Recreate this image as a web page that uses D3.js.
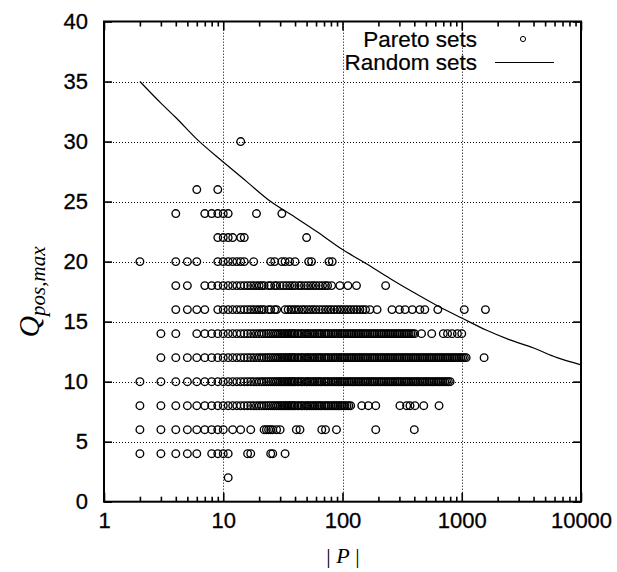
<!DOCTYPE html>
<html>
<head>
<meta charset="utf-8">
<script src="https://cdn.jsdelivr.net/npm/d3@7"></script>
<style>
  html, body { margin: 0; padding: 0; background: #fff; }
  svg { display: block; }
  .tick text { font-family: "Liberation Sans", Arial, sans-serif; font-size: 22px; fill: #000; stroke: #000; stroke-width: 0.3px; }
</style>
</head>
<body>
<div id="chart"></div>
<script>
// Random sets curve
const randomP = [2, 3, 4, 6, 10, 16, 25, 40, 63, 100, 160, 250, 400, 630, 1000, 1600, 2500, 4000, 6300, 10000]
const randomQ = [35.0, 33.2, 32.0, 30.2, 28.3, 26.6, 25.0, 23.7, 22.4, 21.0, 19.8, 18.6, 17.4, 16.3, 15.3, 14.3, 13.5, 12.8, 12.0, 11.4]

// |P| values where the Pareto rows are packed solid
const denseP = [10, 11, 12, 13, 14, 15, 16, 17, 18, 19, 20, 21, 22, 23, 24, 25, 26, 27, 28, 29, 30, 31, 32, 33, 34, 35, 36, 37, 38, 39,
  40, 42, 43, 45, 46, 48, 50, 51, 53, 55, 57, 59, 61, 63, 65, 67, 70, 72, 75, 77, 80, 83, 86, 89, 92, 95, 98,
  102, 105, 109, 113, 117, 121, 125, 129, 134, 138, 143, 148, 153, 159, 164, 170, 176, 182, 188, 195,
  202, 209, 216, 224, 232, 240, 248, 257, 266, 275, 285, 295, 305, 316, 327, 338, 350, 362, 375, 388,
  402, 416, 430, 445, 461, 477, 494, 511, 529, 547, 566, 586, 607, 628, 650, 673, 696, 721, 746, 772, 799,
  827, 856, 886, 917, 949, 982, 1016, 1052, 1089]

// Pareto sets, one array of |P| per Q_pos,max level
const p30 = [14]
const p26 = [6, 9]
const p24 = [4, 7, 8, 9, 10, 11, 19, 31]
const p22 = [9, 10, 11, 12, 14, 15, 50]
const p20 = [2, 4, 5, 6, 9, 10, 11, 12, 13, 14, 15, 18, 25, 27, 31, 33, 36, 40, 52, 55, 77, 82]
const p18 = [4, 5, 7, 8, 9, 10, 11, 12, 13, 14, 15, 16, 17, 18, 19, 20, 21, 22, 24, 25, 27, 28, 30, 32, 34, 36, 38, 40,
  43, 45, 48, 51, 54, 57, 60, 64, 68, 72, 75, 81, 95, 111, 131, 230]
const p16 = [4, 5, 6, 7, 9, 10, 11, 12, 13, 14, 15, 16, 17, 18, 19, 20, 21, 22, 24, 25, 27, 28,
  33, 35, 37, 39, 41, 43, 46, 48, 51, 54, 57, 60, 64, 68, 72, 76, 80, 85, 90, 95, 100, 106, 112, 118, 125, 132,
  140, 148, 156, 170, 195, 260, 300, 335, 385, 445, 490, 630, 1050, 1580]
const p14 = [3, 4, 6, 7, 8, 9, ...denseP.filter(v => v <= 405), 460, 560, 700, 760, 830, 920, 1000]
const p12 = [3, 4, 5, 6, 7, 8, 9, ...denseP, 1540]
const p10 = [2, 3, 4, 5, 6, 7, 8, 9, ...denseP.filter(v => v <= 820)]
const p8 = [2, 3, 4, 5, 6, 7, 8, 9, ...denseP.filter(v => v <= 118), 145, 165, 190, 303, 345, 368, 405, 480, 645]
const p6 = [2, 3, 4, 5, 6, 7, 8, 9, 10, 12, 14, 17, 22, 23, 24, 25, 26, 28, 30, 41, 44, 67, 72, 89, 190, 400]
const p4 = [2, 3, 4, 5, 6, 8, 9, 10, 11, 16, 17, 25, 26, 33]
const p2 = [11]

const qLevels = [30, 26, 24, 22, 20, 18, 16, 14, 12, 10, 8, 6, 4, 2]
const pRows = [p30, p26, p24, p22, p20, p18, p16, p14, p12, p10, p8, p6, p4, p2]

const xMajor = [1, 10, 100, 1000, 10000]
const xMinor = [2, 3, 4, 5, 6, 7, 8, 9, 20, 30, 40, 50, 60, 70, 80, 90, 200, 300, 400, 500, 600, 700, 800, 900,
  2000, 3000, 4000, 5000, 6000, 7000, 8000, 9000]
const yTicks = [0, 5, 10, 15, 20, 25, 30, 35, 40]
const xGrid = [10, 100, 1000]
const yGrid = [5, 10, 15, 20, 25, 30, 35]

const width = 617
const height = 572
const margin = { top: 21.5, right: 36, bottom: 70.3, left: 104 }

const svg = d3.select('#chart')
  .append('svg')
  .attr('width', width)
  .attr('height', height)

const x = d3.scaleLog()
  .domain([1, 10000])
  .range([margin.left, width - margin.right])

const y = d3.scaleLinear()
  .domain([0, 40])
  .range([height - margin.bottom, margin.top])

// dotted grid
const grid = svg.append('g')
  .attr('stroke', '#000')
  .attr('stroke-width', 1)
  .attr('stroke-dasharray', '1,2')

grid.selectAll('line.gx')
  .data(xGrid)
  .enter().append('line')
  .attr('x1', d => Math.round(x(d)) + 0.5)
  .attr('x2', d => Math.round(x(d)) + 0.5)
  .attr('y1', y(0))
  .attr('y2', y(40))

grid.selectAll('line.gy')
  .data(yGrid)
  .enter().append('line')
  .attr('x1', x(1))
  .attr('x2', x(10000))
  .attr('y1', d => Math.round(y(d)) + 0.5)
  .attr('y2', d => Math.round(y(d)) + 0.5)

// Pareto points
const points = []
qLevels.forEach((q, i) => {
  pRows[i].forEach(p => points.push({ p, q }))
})

svg.append('g')
  .selectAll('circle')
  .data(points)
  .enter().append('circle')
  .attr('cx', d => x(d.p))
  .attr('cy', d => y(d.q))
  .attr('r', 3.8)
  .attr('fill', 'none')
  .attr('stroke', '#000')
  .attr('stroke-width', 1.35)

// Random sets curve
const line = d3.line()
  .x(d => x(d[0]))
  .y(d => y(d[1]))
  .curve(d3.curveMonotoneX)

svg.append('path')
  .datum(randomP.map((p, i) => [p, randomQ[i]]))
  .attr('d', line)
  .attr('fill', 'none')
  .attr('stroke', '#000')
  .attr('stroke-width', 1.2)

// axes with inward ticks
const bottomAxis = svg.append('g')
  .attr('transform', `translate(0,${y(0)})`)
bottomAxis.call(d3.axisBottom(x).tickValues(xMajor).tickSize(-9).tickPadding(11).tickFormat(d3.format('d')))
bottomAxis.append('g').call(d3.axisBottom(x).tickValues(xMinor).tickSize(-5).tickFormat(''))

const topAxis = svg.append('g')
  .attr('transform', `translate(0,${y(40)})`)
topAxis.call(d3.axisTop(x).tickValues(xMajor).tickSize(-9).tickFormat(''))
topAxis.append('g').call(d3.axisTop(x).tickValues(xMinor).tickSize(-5).tickFormat(''))

svg.append('g')
  .attr('transform', `translate(${x(1)},0)`)
  .call(d3.axisLeft(y).tickValues(yTicks).tickSize(-8).tickPadding(16))

svg.append('g')
  .attr('transform', `translate(${x(10000)},0)`)
  .call(d3.axisRight(y).tickValues(yTicks).tickSize(-8).tickFormat(''))

svg.selectAll('.domain').remove()
svg.selectAll('.tick line').attr('stroke', '#000').attr('stroke-width', 1.6)

// frame
svg.append('rect')
  .attr('x', x(1))
  .attr('y', y(40))
  .attr('width', x(10000) - x(1))
  .attr('height', y(0) - y(40))
  .attr('fill', 'none')
  .attr('stroke', '#000')
  .attr('stroke-width', 2)

// legend
const legend = svg.append('g')
  .attr('font-family', '"Liberation Sans", Arial, sans-serif')
  .attr('font-size', 22.5)
  .attr('stroke', '#000')
  .attr('stroke-width', 0.2)

legend.append('text')
  .attr('x', 477)
  .attr('y', 46.5)
  .attr('text-anchor', 'end')
  .text('Pareto sets')

legend.append('circle')
  .attr('cx', 523)
  .attr('cy', 39)
  .attr('r', 2.6)
  .attr('fill', 'none')
  .attr('stroke', '#000')
  .attr('stroke-width', 1)

legend.append('text')
  .attr('x', 477)
  .attr('y', 70)
  .attr('text-anchor', 'end')
  .text('Random sets')

legend.append('line')
  .attr('x1', 495)
  .attr('x2', 554)
  .attr('y1', 62.5)
  .attr('y2', 62.5)
  .attr('stroke', '#000')
  .attr('stroke-width', 1.1)

// axis titles
const xTitle = svg.append('text')
  .attr('x', 343)
  .attr('y', 563)
  .attr('text-anchor', 'middle')
  .attr('font-family', '"Liberation Serif", "Times New Roman", serif')
  .attr('font-size', 22)
xTitle.append('tspan').text('| ')
xTitle.append('tspan').attr('font-style', 'italic').text('P')
xTitle.append('tspan').text(' |')

const yTitle = svg.append('text')
  .attr('transform', 'translate(39,292) rotate(-90)')
  .attr('text-anchor', 'middle')
  .attr('font-family', '"Liberation Serif", "Times New Roman", serif')
  .attr('font-style', 'italic')
yTitle.append('tspan').attr('font-size', 30).text('Q')
yTitle.append('tspan').attr('font-size', 21).attr('dy', 6).text('pos,max')
</script>
</body>
</html>
